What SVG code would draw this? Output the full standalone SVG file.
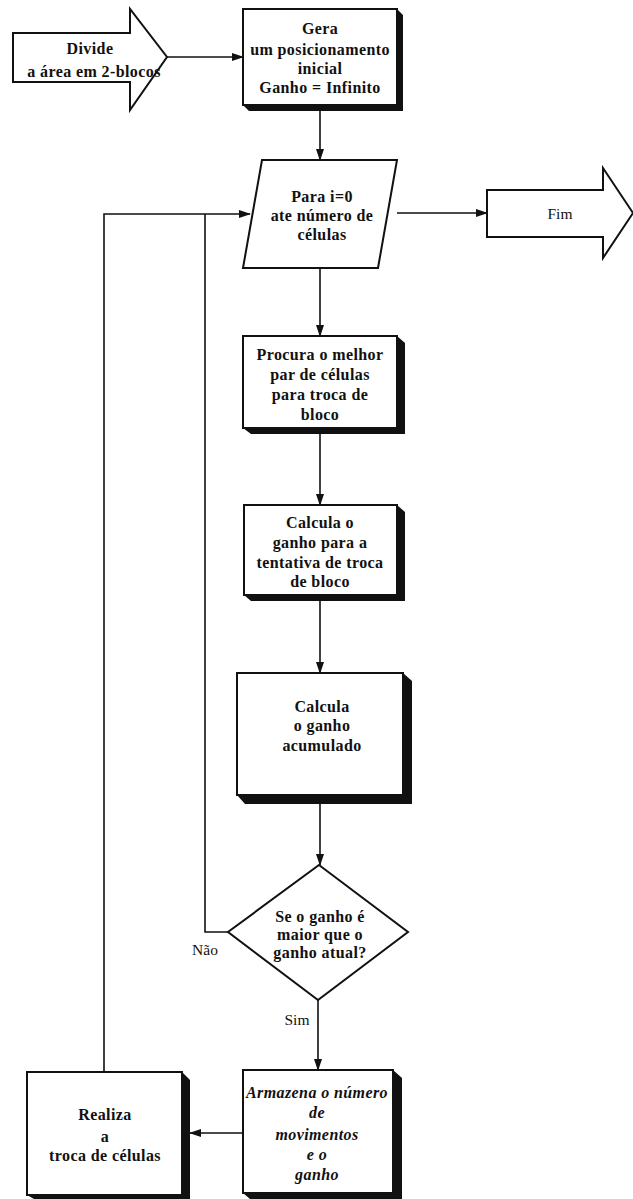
<svg xmlns="http://www.w3.org/2000/svg" width="633" height="1199" viewBox="0 0 633 1199">
  <style>
    .shape { fill: #ffffff; stroke: #111111; stroke-width: 2; }
    .shadow { fill: #111111; stroke: none; }
    .line { fill: none; stroke: #111111; stroke-width: 1.6; }
    .t { font-family: "Liberation Serif", "Times New Roman", serif; font-weight: bold; font-size: 16px; fill: #111111; text-anchor: middle; letter-spacing: 0.4px; }
    .small { font-size: 14.5px; }
    .it { font-style: italic; }
    .lbl { font-family: "Liberation Serif", "Times New Roman", serif; font-size: 15.5px; fill: #111111; text-anchor: middle; }
  </style>
  <defs>
    <marker id="arrow" markerWidth="12" markerHeight="10" refX="11" refY="5" orient="auto" markerUnits="userSpaceOnUse">
      <path d="M0,1 L12,5 L0,9 Z" fill="#111111"/>
    </marker>
  </defs>
  <rect width="633" height="1199" fill="#ffffff"/>

  <!-- connectors -->
  <g id="connectors">
    <line class="line" x1="167" y1="57" x2="243" y2="57" marker-end="url(#arrow)"/>
    <line class="line" x1="320" y1="110" x2="320" y2="160" marker-end="url(#arrow)"/>
    <line class="line" x1="320" y1="268" x2="320" y2="336" marker-end="url(#arrow)"/>
    <line class="line" x1="320" y1="433" x2="320" y2="505" marker-end="url(#arrow)"/>
    <line class="line" x1="320" y1="600" x2="320" y2="673" marker-end="url(#arrow)"/>
    <line class="line" x1="320" y1="803" x2="320" y2="865" marker-end="url(#arrow)"/>
    <polyline class="line" points="228,932 205,932 205,214"/>
    <polyline class="line" points="104,1072 104,214 250,214" marker-end="url(#arrow)"/>
    <line class="line" x1="397" y1="213" x2="487" y2="213" marker-end="url(#arrow)"/>
    <line class="line" x1="318" y1="1000" x2="318" y2="1070" marker-end="url(#arrow)"/>
    <line class="line" x1="243" y1="1133" x2="190" y2="1133" marker-end="url(#arrow)"/>
    <text class="lbl" x="205" y="955">Não</text>
    <text class="lbl" x="297" y="1025">Sim</text>
  </g>

  <!-- start arrow -->
  <g id="divide">
    <polygon class="shape" points="13,33 130,33 130,9 167,57 130,110 130,82 13,82"/>
    <text class="t" x="90" y="54">Divide</text>
    <text class="t" x="94" y="77">a área em 2-blocos</text>
  </g>

  <!-- initial placement -->
  <g id="gera">
    <polygon class="shadow" points="397,9 403,15 403,111 249,111 243,105 397,105"/>
    <rect class="shape" x="243" y="9" width="154" height="96"/>
    <text class="t" x="320" y="34">Gera</text>
    <text class="t" x="320" y="55">um posicionamento</text>
    <text class="t" x="320" y="74">inicial</text>
    <text class="t" x="320" y="93">Ganho = Infinito</text>
  </g>

  <!-- loop over cells -->
  <g id="para">
    <polygon class="shape" points="262,160 397,160 378,268 243,268"/>
    <text class="t" x="322" y="202">Para i=0</text>
    <text class="t" x="322" y="221">ate número de</text>
    <text class="t" x="322" y="240">células</text>
  </g>

  <!-- end -->
  <g id="fim">
    <polygon class="shape" points="487,190 603,190 603,168 633,213 603,258 603,237 487,237"/>
    <text class="lbl" x="560" y="219">Fim</text>
  </g>

  <g id="procura">
    <polygon class="shadow" points="397,336 405,343 405,434 251,434 243,428 397,428"/>
    <rect class="shape" x="243" y="336" width="154" height="92"/>
    <text class="t" x="320" y="360">Procura o melhor</text>
    <text class="t" x="320" y="380">par de células</text>
    <text class="t" x="320" y="400">para troca de</text>
    <text class="t" x="320" y="420">bloco</text>
  </g>

  <g id="calcula-tentativa">
    <polygon class="shadow" points="397,505 405,512 405,601 251,601 244,595 397,595"/>
    <rect class="shape" x="244" y="505" width="153" height="90"/>
    <text class="t" x="320" y="528">Calcula o</text>
    <text class="t" x="320" y="548">ganho para a</text>
    <text class="t" x="320" y="568">tentativa de troca</text>
    <text class="t" x="320" y="587">de bloco</text>
  </g>

  <g id="calcula-acumulado">
    <polygon class="shadow" points="403,673 412,681 412,804 245,804 237,795 403,795"/>
    <rect class="shape" x="237" y="673" width="166" height="122"/>
    <text class="t" x="322" y="712">Calcula</text>
    <text class="t" x="322" y="731">o ganho</text>
    <text class="t" x="322" y="751">acumulado</text>
  </g>

  <g id="decisao">
    <polygon class="shape" points="319,865 408,932 318,1000 228,932"/>
    <text class="t" x="320" y="922">Se o ganho é</text>
    <text class="t" x="320" y="940">maior que o</text>
    <text class="t" x="320" y="958">ganho atual?</text>
  </g>

  <g id="armazena">
    <polygon class="shadow" points="393,1070 402,1078 402,1199 250,1199 243,1193 393,1193"/>
    <rect class="shape" x="243" y="1070" width="150" height="123"/>
    <text class="t it" x="317" y="1098">Armazena o número</text>
    <text class="t it" x="317" y="1118">de</text>
    <text class="t it" x="317" y="1140">movimentos</text>
    <text class="t it" x="317" y="1160">e o</text>
    <text class="t it" x="317" y="1180">ganho</text>
  </g>

  <g id="realiza">
    <polygon class="shadow" points="182,1072 190,1080 190,1199 34,1199 27,1195 182,1195"/>
    <rect class="shape" x="27" y="1072" width="155" height="123"/>
    <text class="t" x="105" y="1120">Realiza</text>
    <text class="t" x="105" y="1142">a</text>
    <text class="t" x="105" y="1161">troca de células</text>
  </g>
</svg>
